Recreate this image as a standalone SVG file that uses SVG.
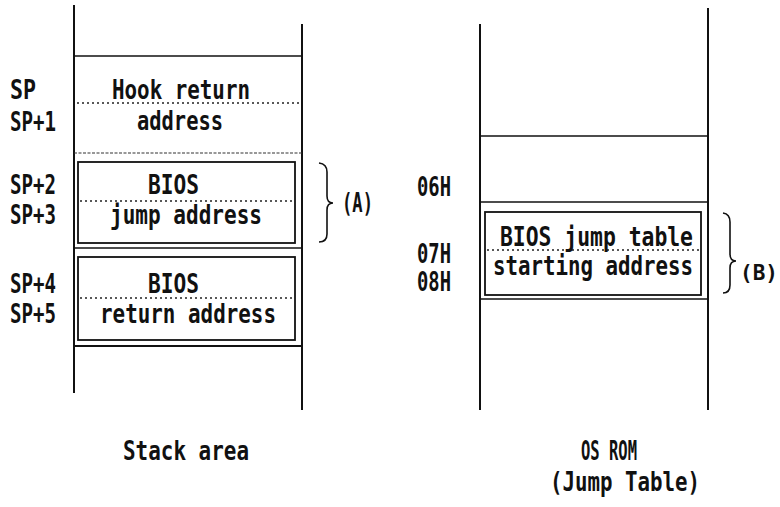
<svg xmlns="http://www.w3.org/2000/svg" width="780" height="507" viewBox="0 0 780 507">
<style>
text{font-family:"DejaVu Sans Mono","Liberation Mono",monospace;font-weight:bold;font-size:26px;fill:#111}
.ln{stroke:#111;stroke-width:1.6;fill:none}
.vl{stroke:#111;stroke-width:2;fill:none}
.box{stroke:#111;stroke-width:1.8;fill:none}
.dot{stroke:#222;stroke-width:1.3;stroke-dasharray:2 3;fill:none}
.fd{stroke:#333;stroke-width:1.2;stroke-dasharray:3 1.5;fill:none}
.br{stroke:#111;stroke-width:1.6;fill:none}
</style>
<rect width="780" height="507" fill="#fff"/>
<g id="stack-area">
<line class="vl" x1="74" y1="5" x2="74" y2="393"/>
<line class="vl" x1="302" y1="24" x2="302" y2="410"/>
<line class="ln" x1="74" y1="56" x2="302" y2="56"/>
<line class="ln" x1="74" y1="248" x2="302" y2="248"/>
<line class="vl" x1="74" y1="346" x2="302" y2="346"/>
<text x="123" y="460" textLength="126" lengthAdjust="spacingAndGlyphs">Stack area</text>
</g>
<g id="hook-return">
<line class="dot" x1="77" y1="103" x2="300" y2="103"/>
<line class="fd" x1="74" y1="153" x2="302" y2="153"/>
<text x="112" y="99" textLength="138" lengthAdjust="spacingAndGlyphs">Hook return</text>
<text x="137" y="130" textLength="86" lengthAdjust="spacingAndGlyphs">address</text>
<text x="10" y="99" textLength="26" lengthAdjust="spacingAndGlyphs">SP</text>
<text x="10" y="131" textLength="46" lengthAdjust="spacingAndGlyphs">SP+1</text>
</g>
<g id="bios-jump">
<rect class="box" x="78" y="162" width="217" height="81"/>
<line class="dot" x1="80" y1="201" x2="294" y2="201"/>
<text x="148" y="194" textLength="51" lengthAdjust="spacingAndGlyphs">BIOS</text>
<text x="110" y="224" textLength="152" lengthAdjust="spacingAndGlyphs">jump address</text>
<text x="10" y="194" textLength="46" lengthAdjust="spacingAndGlyphs">SP+2</text>
<text x="10" y="224" textLength="46" lengthAdjust="spacingAndGlyphs">SP+3</text>
</g>
<g id="bios-return">
<rect class="box" x="78" y="257" width="217" height="83"/>
<line class="dot" x1="80" y1="298" x2="294" y2="298"/>
<text x="148" y="293" textLength="51" lengthAdjust="spacingAndGlyphs">BIOS</text>
<text x="100" y="323" textLength="176" lengthAdjust="spacingAndGlyphs">return address</text>
<text x="10" y="293" textLength="46" lengthAdjust="spacingAndGlyphs">SP+4</text>
<text x="10" y="323" textLength="46" lengthAdjust="spacingAndGlyphs">SP+5</text>
</g>
<g id="os-rom">
<line class="vl" x1="480" y1="24" x2="480" y2="410"/>
<line class="vl" x1="708" y1="8" x2="708" y2="410"/>
<line class="ln" x1="480" y1="136" x2="708" y2="136"/>
<line class="ln" x1="480" y1="202" x2="708" y2="202"/>
<line class="ln" x1="480" y1="299" x2="708" y2="299"/>
<text x="417" y="196" textLength="34" lengthAdjust="spacingAndGlyphs">06H</text>
<text x="581" y="460" textLength="56" lengthAdjust="spacingAndGlyphs">OS ROM</text>
<text x="550" y="491" textLength="150" lengthAdjust="spacingAndGlyphs">(Jump Table)</text>
</g>
<g id="jump-table">
<rect class="box" x="485" y="212" width="216" height="83"/>
<line class="dot" x1="487" y1="250" x2="699" y2="250"/>
<text x="500" y="246" textLength="193" lengthAdjust="spacingAndGlyphs">BIOS jump table</text>
<text x="493" y="275" textLength="200" lengthAdjust="spacingAndGlyphs">starting address</text>
<text x="417" y="263" textLength="34" lengthAdjust="spacingAndGlyphs">07H</text>
<text x="417" y="291" textLength="34" lengthAdjust="spacingAndGlyphs">08H</text>
</g>
<g id="connectors">
<path class="br" d="M319,163 Q327,164 327,172 L327,196 Q327,203 333,203 Q327,203 327,210 L327,234 Q327,242 319,242"/>
<path class="br" d="M723,213 Q730,214 730,222 L730,254 Q730,261 736,261 Q730,261 730,268 L730,285 Q730,293 723,293"/>
<text x="342" y="212" textLength="31" lengthAdjust="spacingAndGlyphs">(A)</text>
<text x="740" y="280" style="font-size:21px">(B)</text>
</g>
</svg>
